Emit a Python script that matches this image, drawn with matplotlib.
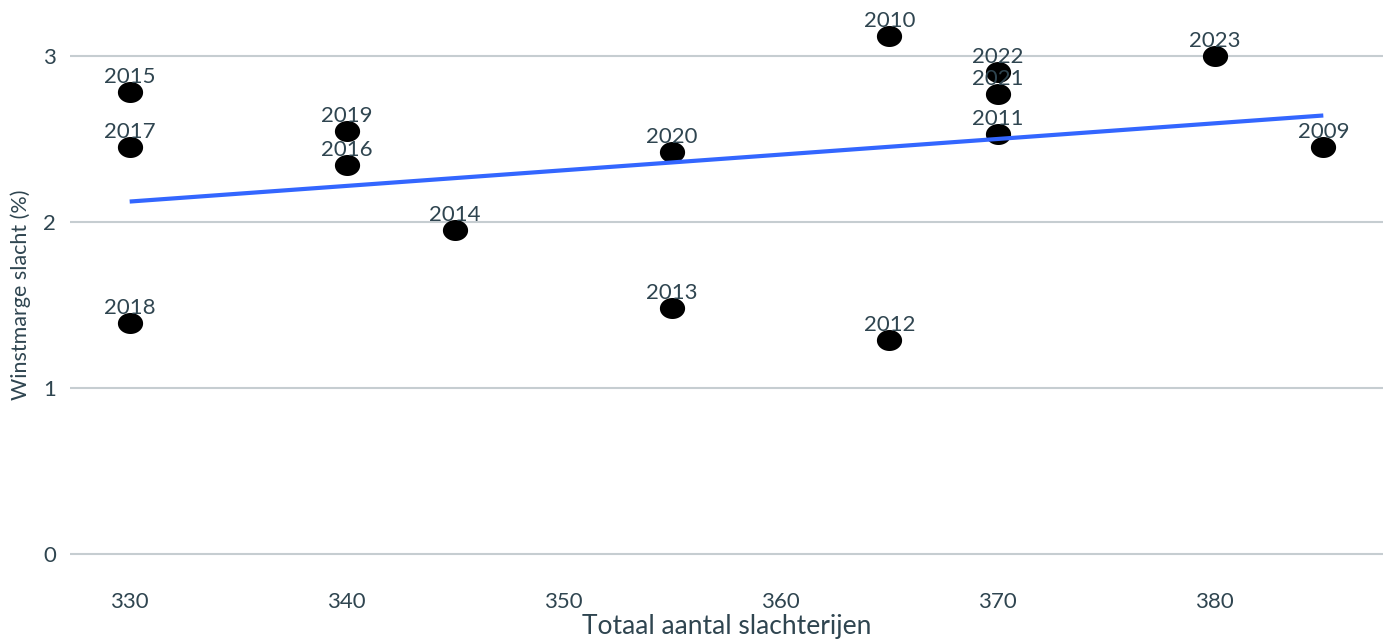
import numpy as np
import matplotlib
matplotlib.use("Agg")
import matplotlib.pyplot as plt
from matplotlib.path import Path

# Data
jaren = ["2015", "2017", "2018", "2019", "2016", "2014", "2020", "2013",
         "2010", "2012", "2022", "2021", "2011", "2023", "2009"]
slachterijen = [330, 330, 330, 340, 340, 345, 355, 355,
                365, 365, 370, 370, 370, 380, 385]
winstmarge = [2.78, 2.45, 1.39, 2.55, 2.34, 1.95, 2.42, 1.48,
              3.12, 1.29, 2.90, 2.77, 2.53, 3.00, 2.45]

x_ticks = [330, 340, 350, 360, 370, 380]
y_ticks = [0, 1, 2, 3]

tekst_kleur = "#2f4550"
grid_kleur = "#c6cdd1"
lijn_kleur = "#3366ff"

plt.rcParams["font.family"] = ["Lato", "DejaVu Sans"]

fig = plt.figure(figsize=(13.98, 6.41), dpi=100)
ax = fig.add_axes([70 / 1398, 61 / 641, 1313 / 1398, 570 / 641])

# horizontale gridlijnen
for yt in y_ticks:
    ax.axhline(yt, color=grid_kleur, lw=1.5, zorder=0)

# ellips-vormige marker
t = np.linspace(0, 2 * np.pi, 60)
ellips = Path(np.column_stack([1.2 * np.cos(t), np.sin(t)]), closed=True)

x = np.array(slachterijen, dtype=float)
y = np.array(winstmarge)
ax.scatter(x, y, marker=ellips, s=330, color="black", zorder=3, linewidths=0)

# lineaire trendlijn
coef = np.polyfit(x, y, 1)
xs = np.array([x.min(), x.max()])
ax.plot(xs, np.polyval(coef, xs), color=lijn_kleur, lw=3, zorder=4,
        solid_capstyle="butt")

for jr, xi, yi in zip(jaren, slachterijen, winstmarge):
    ax.annotate(jr, (xi, yi), xytext=(0, 6.5), textcoords="offset points",
                ha="center", va="baseline", fontsize=16,
                color=tekst_kleur, zorder=5)

ax.set_xlim(327.25, 387.75)
ax.set_ylim(-0.156, 3.276)
ax.set_xticks(x_ticks)
ax.set_yticks(y_ticks)
ax.tick_params(length=0, labelsize=16, labelcolor=tekst_kleur, pad=10)
ax.tick_params(axis="x", pad=9)
for s in ax.spines.values():
    s.set_visible(False)

ax.set_xlabel("Totaal aantal slachterijen", fontsize=19, color=tekst_kleur,
              labelpad=1)
ax.set_ylabel("Winstmarge slacht (%)", fontsize=15.5, color=tekst_kleur,
              labelpad=9)

fig.savefig("out.png", dpi=100, facecolor="white")
